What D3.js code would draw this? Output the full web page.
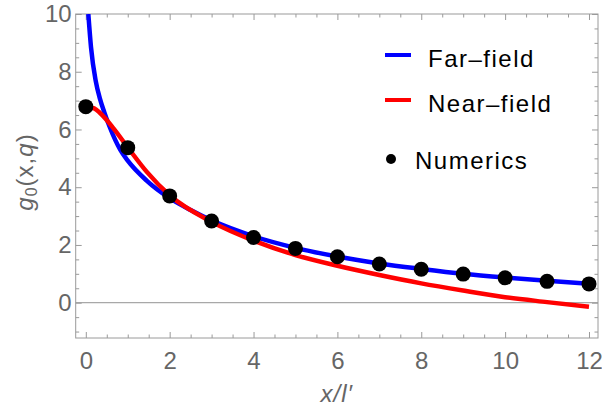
<!DOCTYPE html>
<html>
<head>
<meta charset="utf-8">
<script src="https://cdn.jsdelivr.net/npm/d3@7"></script>
<style>
html,body{margin:0;padding:0;background:#fff;}
svg{display:block;font-family:"Liberation Sans",Arial,sans-serif;}
</style>
</head>
<body>
<svg id="chart" width="602" height="414"></svg>
<script>
// ---- data ----
const numericsX = [0,1,2,3,4,5,6,7,8,9,10,11,12];
const numericsY = [6.79,5.37,3.70,2.83,2.26,1.88,1.59,1.34,1.16,0.99,0.86,0.74,0.65];

const farX = [0.06,0.124,0.235,0.34,0.44,0.58,0.82,1.0,1.45,2,2.5,3,4,5,6,7,8,9,10,11,12];
const farY = [10.0,8.85,7.69,7.05,6.6,6.05,5.3,4.92,4.23,3.62,3.21,2.85,2.30,1.90,1.60,1.36,1.17,1.00,0.87,0.76,0.66];

const nearX = [0,0.2,0.34,0.66,0.98,1.45,2,3,4,5,6,7,8,9,10,11,12];
const nearY = [6.79,6.73,6.57,6.04,5.42,4.54,3.72,2.80,2.15,1.65,1.28,0.96,0.67,0.42,0.19,0.02,-0.14];

const xMajor = [0,2,4,6,8,10,12];
const yMajor = [0,2,4,6,8,10];
const legendLabels = ["Far\u2013field","Near\u2013field","Numerics"];
const seriesColors = ["#0000ff","#ff0000","#000000"];

// ---- layout ----
const L = 75.7, R = 598, T = 14, B = 338;
const x = d3.scaleLinear().domain([-0.241, 12.215]).range([L, R]);
const y = d3.scaleLinear().domain([-1.223, 10]).range([B, T]);

const svg = d3.select("#chart");
const frameColor = "#9a9a9a";
const labelColor = "#666666";

// clip
svg.append("defs").append("clipPath").attr("id","plotclip")
  .append("rect").attr("x",L).attr("y",T).attr("width",R-L).attr("height",B-T);

// zero line
svg.append("line").attr("x1",L).attr("x2",R).attr("y1",y(0)).attr("y2",y(0))
  .attr("stroke","#a8a8a8").attr("stroke-width",1.2);

// minor ticks arrays
const xMinor = d3.range(0, 12.01, 0.5).filter(v => v % 2 !== 0);
const yMinor = d3.range(-1, 10.01, 0.5).filter(v => v % 2 !== 0);

function styleAxis(g){
  g.select(".domain").remove();
  g.selectAll("line").attr("stroke",frameColor).attr("stroke-width",1);
  g.selectAll("text").attr("fill",labelColor).style("font-size","24px")
    .style("font-family","'Liberation Sans',Arial,sans-serif");
}
// bottom
svg.append("g").attr("transform",`translate(0,${B})`)
  .call(d3.axisBottom(x).tickValues(xMajor).tickSize(-6).tickPadding(14).tickFormat(d3.format("d"))).call(styleAxis);
svg.append("g").attr("transform",`translate(0,${B})`)
  .call(d3.axisBottom(x).tickValues(xMinor).tickSize(-3.5).tickFormat("")).call(styleAxis);
// top
svg.append("g").attr("transform",`translate(0,${T})`)
  .call(d3.axisTop(x).tickValues(xMajor).tickSize(-6).tickFormat("")).call(styleAxis);
svg.append("g").attr("transform",`translate(0,${T})`)
  .call(d3.axisTop(x).tickValues(xMinor).tickSize(-3.5).tickFormat("")).call(styleAxis);
// left
svg.append("g").attr("transform",`translate(${L},0)`)
  .call(d3.axisLeft(y).tickValues(yMajor).tickSize(-6).tickPadding(4).tickFormat(d3.format("d"))).call(styleAxis);
svg.append("g").attr("transform",`translate(${L},0)`)
  .call(d3.axisLeft(y).tickValues(yMinor).tickSize(-3.5).tickFormat("")).call(styleAxis);
// right
svg.append("g").attr("transform",`translate(${R},0)`)
  .call(d3.axisRight(y).tickValues(yMajor).tickSize(-6).tickFormat("")).call(styleAxis);
svg.append("g").attr("transform",`translate(${R},0)`)
  .call(d3.axisRight(y).tickValues(yMinor).tickSize(-3.5).tickFormat("")).call(styleAxis);

// frame
svg.append("rect").attr("x",L).attr("y",T).attr("width",R-L).attr("height",B-T)
  .attr("fill","none").attr("stroke",frameColor).attr("stroke-width",1);

// curves
const line = d3.line().x(d=>x(d[0])).y(d=>y(d[1])).curve(d3.curveMonotoneX);
const plot = svg.append("g").attr("clip-path","url(#plotclip)");
plot.append("path").datum(d3.zip(farX,farY)).attr("d",line)
  .attr("fill","none").attr("stroke",seriesColors[0]).attr("stroke-width",4.5);
plot.append("path").datum(d3.zip(nearX,nearY)).attr("d",line)
  .attr("fill","none").attr("stroke",seriesColors[1]).attr("stroke-width",4.5);
svg.append("g").selectAll("circle").data(d3.zip(numericsX,numericsY)).join("circle")
  .attr("cx",d=>x(d[0])).attr("cy",d=>y(d[1])).attr("r",7.5).attr("fill",seriesColors[2]);

// legend
const leg = svg.append("g");
const rowsY = [55,100,159];
[0,1].forEach(i=>{
  leg.append("line").attr("x1",385).attr("x2",411).attr("y1",rowsY[i]).attr("y2",rowsY[i])
    .attr("stroke",seriesColors[i]).attr("stroke-width",4);
  leg.append("text").attr("x",428).attr("y",rowsY[i]+11.5).text(legendLabels[i])
    .style("font-size","24px").style("letter-spacing","1.5px").attr("fill","#000");
});
leg.append("circle").attr("cx",391).attr("cy",rowsY[2]).attr("r",5).attr("fill","#000");
leg.append("text").attr("x",415).attr("y",rowsY[2]+10).text(legendLabels[2])
  .style("font-size","24px").style("letter-spacing","1.5px").attr("fill","#000");

// axis labels
svg.append("text").attr("x",(L+R)/2).attr("y",402).attr("text-anchor","middle")
  .attr("fill",labelColor).style("font-size","24px").style("font-style","italic").style("letter-spacing","1px")
  .text("x/l\u2032");
const yl = svg.append("text").attr("transform","translate(33,172) rotate(-90)").attr("text-anchor","middle")
  .attr("fill",labelColor).style("font-size","24px").style("letter-spacing","1px");
yl.append("tspan").style("font-style","italic").text("g");
yl.append("tspan").attr("baseline-shift","-25%").style("font-size","16px").text("0");
yl.append("tspan").text("(x,");
yl.append("tspan").style("font-style","italic").text("q");
yl.append("tspan").text(")");
</script>
</body>
</html>
